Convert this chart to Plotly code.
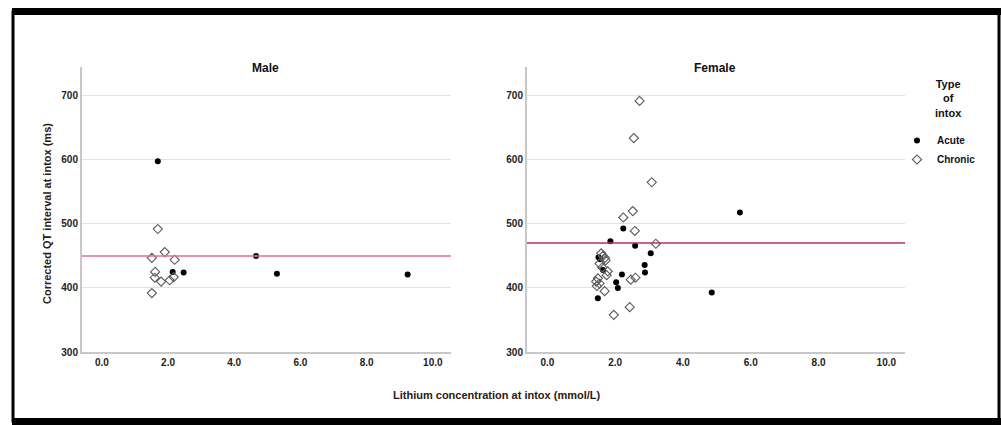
import plotly.graph_objects as go

W, H = 1001, 425

# ---- data ----
male_acute_x = [1.69, 2.14, 2.47, 4.66, 5.29, 9.24]
male_acute_y = [598, 425, 424, 450, 422, 421]
male_chronic_x = [1.69, 1.90, 1.51, 2.20, 1.61, 1.60, 1.79, 2.05, 2.17, 1.51]
male_chronic_y = [492, 456, 447, 444, 425, 416, 410, 412, 417, 392]

female_acute_x = [1.86, 2.24, 2.59, 3.05, 2.87, 2.88, 2.20, 2.03, 2.08, 1.51, 1.64, 1.49, 4.85, 5.68, 1.56]
female_acute_y = [473, 493, 466, 454, 436, 424, 421, 409, 400, 448, 428, 384, 393, 518, 445]
female_chronic_x = [2.72, 2.55, 3.08, 2.24, 2.52, 2.58, 3.20, 1.59, 1.64, 1.72, 1.54, 1.75,
                    1.49, 1.44, 1.54, 1.46, 1.69, 2.46, 2.60, 1.96, 2.43, 1.70, 1.78, 1.62]
female_chronic_y = [692, 634, 565, 510, 520, 489, 469, 454, 450, 443, 438, 420,
                    415, 410, 407, 403, 395, 413, 416, 358, 370, 447, 426, 432]

male_ref = 450
female_ref = 470

x_ticks = [0, 2, 4, 6, 8, 10]
y_ticks = [300, 400, 500, 600, 700]

FONT = "Liberation Sans, Arial, sans-serif"

def px(x):
    return x / W

def py(y):
    return 1 - y / H

fig = go.Figure()

acute_marker = dict(symbol="circle", size=6, color="black", line=dict(width=0))
chronic_marker = dict(symbol="diamond-open", size=7, color="#5a5a5a", line=dict(width=1.1))

fig.add_trace(go.Scatter(x=male_acute_x, y=male_acute_y, mode="markers", marker=acute_marker,
                         name="<b>Acute</b>", legendgroup="a", xaxis="x", yaxis="y"))
fig.add_trace(go.Scatter(x=male_chronic_x, y=male_chronic_y, mode="markers", marker=chronic_marker,
                         name="<b>Chronic</b>", legendgroup="c", xaxis="x", yaxis="y"))
fig.add_trace(go.Scatter(x=female_acute_x, y=female_acute_y, mode="markers", marker=acute_marker,
                         name="Acute", legendgroup="a", showlegend=False, xaxis="x2", yaxis="y2"))
fig.add_trace(go.Scatter(x=female_chronic_x, y=female_chronic_y, mode="markers", marker=chronic_marker,
                         name="Chronic", legendgroup="c", showlegend=False, xaxis="x2", yaxis="y2"))

ydom = [py(352), py(67)]
xr = [-0.6, 10.55]
yr = [300, 745]

tickfont = dict(family=FONT, size=10, color="#222222")

common_x = dict(range=xr, tickvals=x_ticks, ticktext=[f"<b>{v:.1f}</b>" for v in x_ticks],
                showgrid=False, zeroline=False, showline=True, linecolor="#c8c8c8", linewidth=2,
                ticks="", tickfont=tickfont, fixedrange=True, automargin=False)
common_y = dict(range=yr, tickvals=y_ticks, ticktext=[f"<b>{v}</b>" for v in y_ticks],
                showgrid=True, gridcolor="#e2e2e2", gridwidth=1,
                zeroline=False, showline=True, linecolor="#c8c8c8", linewidth=2,
                ticks="", tickfont=tickfont, fixedrange=True, automargin=False)

fig.update_layout(
    width=W, height=H,
    margin=dict(l=0, r=0, t=0, b=0),
    paper_bgcolor="white", plot_bgcolor="white",
    font=dict(family=FONT, color="#222222"),
    xaxis=dict(domain=[px(82), px(451)], anchor="y", **common_x),
    yaxis=dict(domain=ydom, anchor="x", **common_y),
    xaxis2=dict(domain=[px(527), px(905)], anchor="y2", **common_x),
    yaxis2=dict(domain=ydom, anchor="x2", **common_y),
    showlegend=True,
    legend=dict(x=px(897), y=py(126), xanchor="left", yanchor="top",
                bgcolor="rgba(0,0,0,0)",
                font=dict(family=FONT, size=10, color="#111122"),
                tracegroupgap=0, itemwidth=30),
)

# reference lines
fig.add_shape(type="line", xref="x domain", yref="y", x0=0, x1=1, y0=male_ref, y1=male_ref,
              line=dict(color="#dc6f8c", width=1.5))
fig.add_shape(type="line", xref="x2 domain", yref="y2", x0=0, x1=1, y0=female_ref, y1=female_ref,
              line=dict(color="#b8305a", width=1.5))

# frame
fig.add_shape(type="rect", xref="paper", yref="paper", x0=px(13), x1=px(999), y0=py(421), y1=py(12),
              line=dict(color="black", width=3), layer="above")
fig.add_shape(type="rect", xref="paper", yref="paper", x0=px(12), x1=px(1001), y0=py(15), y1=py(8),
              line=dict(width=0), fillcolor="black", layer="above")
fig.add_shape(type="rect", xref="paper", yref="paper", x0=px(12), x1=px(1001), y0=py(425), y1=py(418),
              line=dict(width=0), fillcolor="black", layer="above")

# titles
def ann(text, x, y, size, color="#111111", angle=0):
    fig.add_annotation(text=text, x=px(x), y=py(y), xref="paper", yref="paper",
                       xanchor="center", yanchor="middle", align="center", showarrow=False,
                       textangle=angle, font=dict(family=FONT, size=size, color=color))

ann("<b>Male</b>", 265, 68, 12)
ann("<b>Female</b>", 715, 68, 12)
ann("<b>Type<br>of<br>intox</b>", 948, 99, 11)
ann("<b>Corrected QT interval at intox (ms)</b>", 47, 214, 11, "#2b1a10", -90)
ann("<b>Lithium concentration at intox (mmol/L)</b>", 497, 395, 11, "#2b1a10")

fig.write_html("out.html", config={"displayModeBar": False},
               post_script="document.body.style.margin='0';document.body.style.overflow='hidden';")
